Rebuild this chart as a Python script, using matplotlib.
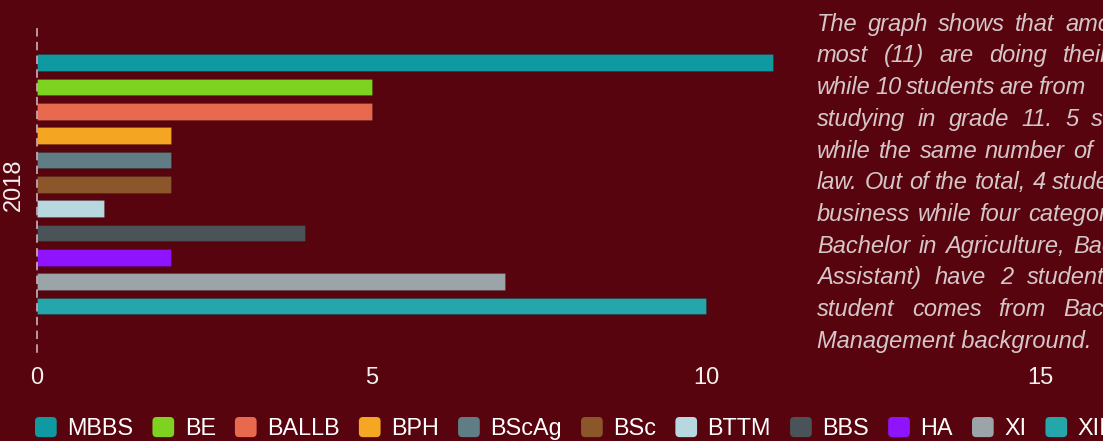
import matplotlib
matplotlib.use('Agg')
import matplotlib.pyplot as plt
from matplotlib.patches import Patch, FancyBboxPatch
from matplotlib.legend_handler import HandlerPatch
from matplotlib.font_manager import FontProperties

# data
year = '2018'
courses = ['MBBS', 'BE', 'BALLB', 'BPH', 'BScAg', 'BSc', 'BTTM', 'BBS', 'HA', 'XI', 'XII']
students = [11, 5, 5, 2, 2, 2, 1, 4, 2, 7, 10]
colors = ['#0f9aa2', '#7ed321', '#e86a4e', '#f5a623', '#607d85', '#8b572a',
          '#b8d8e0', '#4a5458', '#9013fe', '#9ba4a8', '#24a6aa']
xticks = [0, 5, 10, 15]

note_words = [
    ['The', 'graph', 'shows', 'that', 'among'],
    ['most', '(11)', 'are', 'doing', 'their'],
    ['while', '10', 'students', 'are', 'from'],
    ['studying', 'in', 'grade', '11.', '5', 'students'],
    ['while', 'the', 'same', 'number', 'of'],
    ['law.', 'Out', 'of', 'the', 'total,', '4', 'students'],
    ['business', 'while', 'four', 'categories'],
    ['Bachelor', 'in', 'Agriculture,', 'Bachelor'],
    ['Assistant)', 'have', '2', 'students'],
    ['student', 'comes', 'from', 'Bachelor'],
    ['Management', 'background.'],
]
# pixel x where the last word of each justified line starts (None = last line, not justified)
note_last_x = [1065, 1063, 1038, 1091, 1073, 1052, 1028, 1073, 1027, 1063, None]

BG = '#57040f'
W, H = 1103, 441

fig = plt.figure(figsize=(W / 100, H / 100), dpi=100, facecolor=BG)
ax = fig.add_axes([37 / W, 1 - 352 / H, (W - 37) / W, 327 / H], facecolor=BG)

n = len(courses)
ypos = [i - (n - 1) / 2 for i in range(n)]
ax.barh(ypos, students, height=0.69, color=colors, edgecolor=(0, 0, 0, 0.15), linewidth=0.8)

ax.set_xlim(0, (W - 37) / 66.9)
ax.set_ylim(6.89, -6.55)
ax.set_xticks(xticks)
ax.set_xticklabels([str(t) for t in xticks], fontsize=17, color='#f4efef', family='Liberation Sans')
ax.set_yticks([0])
ax.set_yticklabels([year], rotation=90, va='center', fontsize=17, color='#f4efef', family='Liberation Sans')
ax.tick_params(axis='x', length=0, pad=11)
ax.tick_params(axis='y', length=0, pad=9)
for s in ['top', 'right', 'bottom']:
    ax.spines[s].set_visible(False)
ax.spines['left'].set_color('#d8c2c6')
ax.spines['left'].set_linewidth(1.1)
ax.spines['left'].set_linestyle((0, (4.5, 4.5)))


class RoundHandler(HandlerPatch):
    def create_artists(self, legend, orig_handle, xdescent, ydescent, width, height, fontsize, trans):
        p = FancyBboxPatch((-xdescent, -ydescent), width, height,
                           boxstyle='round,pad=0,rounding_size=3',
                           facecolor=orig_handle.get_facecolor(), edgecolor='none', transform=trans)
        return [p]


handles = [Patch(facecolor=c) for c in colors]
leg = fig.legend(handles, courses, loc='upper left', bbox_to_anchor=(35 / W, 1 - 417 / H),
                 ncol=n, frameon=False, prop={'family': 'Liberation Sans', 'size': 16.8},
                 handlelength=0.93, handleheight=0.95, handletextpad=0.45, columnspacing=0.82,
                 borderpad=0, borderaxespad=0, labelcolor='white',
                 handler_map={Patch: RoundHandler()})

# justified italic note on the right
fig.canvas.draw()
rend = fig.canvas.get_renderer()
fp = FontProperties(family='Liberation Sans', style='italic', size=17)
x0 = 817
for i, words in enumerate(note_words):
    y = 1 - (30.7 + 31.7 * i) / H
    last_x = note_last_x[i]
    if last_x is None:
        fig.text(x0 / W, y, ' '.join(words), fontproperties=fp, color='#d5c6c8', va='baseline')
        continue
    widths = [rend.get_text_width_height_descent(w, fp, ismath=False)[0] for w in words]
    gap = (last_x - x0 - sum(widths[:-1])) / (len(words) - 1)
    x = x0
    for w, wd in zip(words, widths):
        fig.text(x / W, y, w, fontproperties=fp, color='#d5c6c8', va='baseline')
        x += wd + gap

fig.savefig('out.png', dpi=100, facecolor=BG)
